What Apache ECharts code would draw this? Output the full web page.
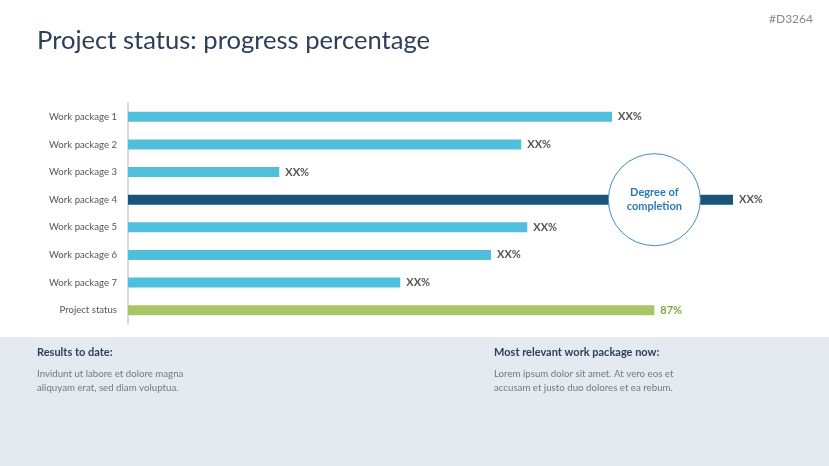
<!DOCTYPE html>
<html><head><meta charset="utf-8">
<script src="https://cdn.jsdelivr.net/npm/echarts@6/dist/echarts.min.js"></script>
<style>html,body{margin:0;padding:0;background:#fff}#c{width:829px;height:466px}</style>
</head><body><div id="c"></div>
<script>
var categories = ['Work package 1','Work package 2','Work package 3','Work package 4','Work package 5','Work package 6','Work package 7','Project status'];
var values = [80, 65, 25, 100, 66, 60, 45, 87];
var valueLabels = ['XX%','XX%','XX%','XX%','XX%','XX%','XX%','87%'];
var highlightIndex = 3;
var statusIndex = 7;

var FONT = 'Lato, "Open Sans", sans-serif';
var chart = echarts.init(document.getElementById('c'));
var data = values.map(function(v, i){
  var color = i === highlightIndex ? '#1b5479' : (i === statusIndex ? '#a5c662' : '#4fbfdb');
  return {
    value: v,
    itemStyle: {color: color},
    label: {color: i === statusIndex ? '#7fa83a' : '#555'}
  };
});
chart.setOption({
  animation: false,
  grid: {left: 128, right: 96, top: 103, bottom: 142},
  xAxis: {type: 'value', min: 0, max: 100, show: false},
  yAxis: {
    type: 'category', data: categories, inverse: true,
    axisLine: {show: true, lineStyle: {color: '#d9d9d9', width: 2}},
    axisTick: {show: false},
    axisLabel: {color: '#555', fontSize: 9.6, fontFamily: FONT, margin: 11}
  },
  graphic: [
    {type: 'rect', left: 0, top: 337, shape: {width: 829, height: 129}, style: {fill: '#e5eaf1'}, z: -10},
    {type: 'text', left: 37, top: 28, style: {text: 'Project status: progress percentage', fill: '#2e4057', font: '25.6px ' + FONT}},
    {type: 'text', right: 16, top: 13, style: {text: '#D3264', fill: '#888', font: '12px ' + FONT}},
    {type: 'text', left: 37, top: 347, style: {text: 'Results to date:', fill: '#2e4057', font: 'bold 11px ' + FONT}},
    {type: 'text', left: 37, top: 367, style: {text: 'Invidunt ut labore et dolore magna\naliquyam erat, sed diam voluptua.', fill: '#777', font: '9.7px ' + FONT, lineHeight: 14}},
    {type: 'text', left: 494, top: 347, style: {text: 'Most relevant work package now:', fill: '#2e4057', font: 'bold 11px ' + FONT}},
    {type: 'text', left: 494, top: 367, style: {text: 'Lorem ipsum dolor sit amet. At vero eos et\naccusam et justo duo dolores et ea rebum.', fill: '#777', font: '9.7px ' + FONT, lineHeight: 14}}
  ],
  series: [{
    type: 'bar', data: data, barWidth: 10,
    label: {
      show: true, position: 'right', distance: 6,
      fontSize: 11, fontWeight: 'bold', fontFamily: FONT,
      formatter: function(p){ return valueLabels[p.dataIndex]; }
    },
    markPoint: {
      silent: true,
      data: [{coord: [87, categories[highlightIndex]], symbol: 'circle', symbolSize: 92,
        itemStyle: {color: '#fff', borderColor: '#3d8cc6', borderWidth: 1},
        label: {show: true, position: 'inside', formatter: 'Degree of\ncompletion', color: '#2a7ab8', fontSize: 11, fontWeight: 'bold', fontFamily: FONT, lineHeight: 14}
      }]
    }
  }]
});
</script></body></html>
